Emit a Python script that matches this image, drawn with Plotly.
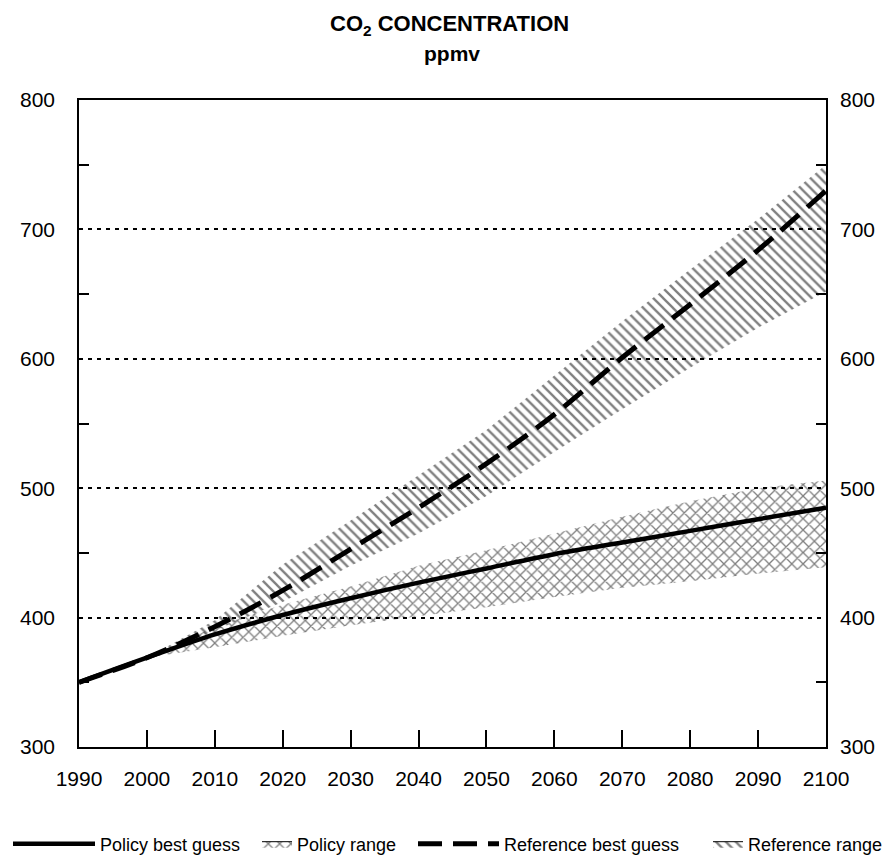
import plotly.graph_objects as go

years = [1990, 2000, 2010, 2020, 2030, 2040, 2050, 2060, 2070, 2080, 2090, 2100]
policy_best = [350, 369, 387, 402, 415, 427, 438, 449, 458, 467, 476, 485]
policy_low = [350, 369, 377, 386, 394, 401, 408, 416, 423, 428, 434, 439]
policy_high = [350, 369, 393, 410, 424, 440, 452, 465, 478, 490, 500, 506]
ref_best = [350, 369, 393, 421, 453, 485, 519, 557, 601, 642, 684, 730]
ref_low = [350, 369, 390, 412, 440, 465, 494, 528, 561, 593, 624, 652]
ref_high = [350, 369, 398, 441, 475, 510, 545, 587, 629, 669, 708, 750]

y_ticks = [300, 400, 500, 600, 700, 800]
y_minor = [350, 450, 550, 650, 750]
x_ticks = list(range(1990, 2101, 10))

FONT = "Liberation Sans, Arial, sans-serif"
clear = "rgba(0,0,0,0)"
# the page body has an 8px margin, so the figure is drawn 8px smaller and
# all screen positions below are given in figure coordinates (screen - 8)
OFF = 8
W, H = 890 - OFF, 855 - OFF
ML, MR, MT, MB = 79 - OFF, 64, 100 - OFF, 108
PW, PH = W - ML - MR, H - MT - MB

ref_pattern = dict(shape="\\", fgcolor="black", bgcolor=clear, size=7, solidity=0.33)
pol_pattern = dict(shape="x", fgcolor="black", bgcolor=clear, size=8, solidity=0.3)

fig = go.Figure()

# Reference range band
fig.add_trace(go.Scatter(x=years, y=ref_low, mode="lines", line=dict(width=0, color=clear),
                         showlegend=False, hoverinfo="skip"))
fig.add_trace(go.Scatter(x=years, y=ref_high, mode="lines", line=dict(width=0, color=clear),
                         fill="tonexty", fillcolor=clear, fillpattern=ref_pattern,
                         showlegend=False, name="Reference range"))
# Policy range band
fig.add_trace(go.Scatter(x=years, y=policy_low, mode="lines", line=dict(width=0, color=clear),
                         showlegend=False, hoverinfo="skip"))
fig.add_trace(go.Scatter(x=years, y=policy_high, mode="lines", line=dict(width=0, color=clear),
                         fill="tonexty", fillcolor=clear, fillpattern=pol_pattern,
                         showlegend=False, name="Policy range"))
# Lines
fig.add_trace(go.Scatter(x=years, y=ref_best, mode="lines", line_shape="spline",
                         line=dict(color="black", width=5, dash="24px,11px"),
                         name="Reference best guess", legend="legend3"))
fig.add_trace(go.Scatter(x=years, y=policy_best, mode="lines", line_shape="spline",
                         line=dict(color="black", width=4.5),
                         name="Policy best guess", legend="legend"))
# legend-only entries for the ranges (boxed patterns)
fig.add_trace(go.Scatter(x=[None], y=[None], mode="lines", fill="toself", fillcolor=clear,
                         fillpattern=pol_pattern, line=dict(color="black", width=1),
                         name="Policy range", legend="legend2"))
fig.add_trace(go.Scatter(x=[None], y=[None], mode="lines", fill="toself", fillcolor=clear,
                         fillpattern=ref_pattern, line=dict(color="black", width=1),
                         name="Reference range", legend="legend4"))
# dummy for right axis
fig.add_trace(go.Scatter(x=[1990], y=[300], yaxis="y2", mode="markers",
                         marker=dict(opacity=0), showlegend=False, hoverinfo="skip"))

LEG_Y = 1 - (844 - OFF) / H


def leg(px, iw):
    return dict(orientation="h", xref="container", yref="container",
                x=(px - OFF) / W, xanchor="left", y=LEG_Y, yanchor="middle",
                font=dict(size=18, family=FONT), itemwidth=iw, bgcolor=clear,
                borderwidth=0, traceorder="normal")


def px_x(px):
    return (px - OFF - ML) / PW


def px_y(py):
    return (H - MB - (py - OFF)) / PH


axis_common = dict(linecolor="black", linewidth=1.6, zeroline=False, automargin=False)

fig.update_layout(
    width=W, height=H,
    margin=dict(l=ML, r=MR, t=MT, b=MB, autoexpand=False),
    paper_bgcolor="white", plot_bgcolor="white",
    font=dict(family=FONT, color="black", size=21),
    xaxis=dict(range=[1990, 2100], tickvals=x_ticks, ticks="inside", ticklen=17,
               tickwidth=1.5, tickcolor="black", showline=True, mirror=True,
               showgrid=False, ticklabelstandoff=12, tickfont=dict(size=21),
               **axis_common),
    yaxis=dict(range=[300, 800], tickvals=y_ticks, ticks="", showline=True,
               showgrid=True, gridcolor="black", gridwidth=1.5, griddash="4px,5px",
               ticklabelstandoff=18,
               minor=dict(tickvals=y_minor, ticks="inside", ticklen=10,
                          tickcolor="black", tickwidth=1.5, showgrid=False),
               tickfont=dict(size=21), **axis_common),
    yaxis2=dict(range=[300, 800], tickvals=y_ticks, ticks="", overlaying="y",
                side="right", showline=True, showgrid=False, ticklabelstandoff=8,
                minor=dict(tickvals=y_minor, ticks="inside", ticklen=10,
                           tickcolor="black", tickwidth=1.5, showgrid=False),
                tickfont=dict(size=21), **axis_common),
    legend=leg(4, 82),
    legend2=leg(257, 30),
    legend3=leg(413, 81),
    legend4=leg(708, 30),
    showlegend=True,
    annotations=[
        dict(text="<b>CO<sub>2</sub> CONCENTRATION</b>", xref="paper", yref="paper",
             x=px_x(449), y=px_y(25), xanchor="center", yanchor="middle",
             showarrow=False, font=dict(size=22, family=FONT)),
        dict(text="<b>ppmv</b>", xref="paper", yref="paper",
             x=px_x(452), y=px_y(53), xanchor="center", yanchor="middle",
             showarrow=False, font=dict(size=21, family=FONT)),
    ],
)

fig.write_html("out.html")
